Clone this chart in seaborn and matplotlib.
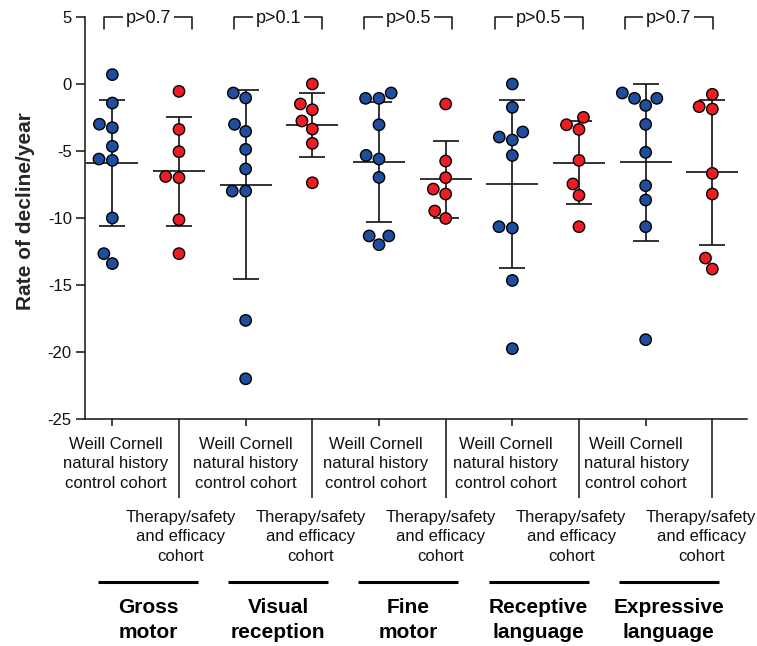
import numpy as np
import pandas as pd
import matplotlib
matplotlib.use("Agg")
import matplotlib.pyplot as plt
import matplotlib.transforms as mtransforms
import seaborn as sns

# ---- data: rate of decline per year for each developmental domain ----
domain_titles = ["Gross\nmotor", "Visual\nreception", "Fine\nmotor",
                 "Receptive\nlanguage", "Expressive\nlanguage"]
p_labels = ["p>0.7", "p>0.1", "p>0.5", "p>0.5", "p>0.7"]
control_label = "Weill Cornell\nnatural history\ncontrol cohort"
therapy_label = "Therapy/safety\nand efficacy\ncohort"
cohorts = ["control", "therapy"]

control_gross = [0.7, -1.42, -3.0, -3.26, -4.65, -5.6, -5.7, -10.0, -12.66, -13.4]
therapy_gross = [-0.55, -3.39, -5.05, -6.9, -6.99, -10.13, -12.66]

control_visual = [-0.67, -1.04, -3.01, -3.54, -4.88, -6.34, -7.99, -7.99, -17.64, -22.0]
therapy_visual = [0.0, -1.49, -1.92, -2.76, -3.36, -4.43, -7.37]

control_fine = [-0.67, -1.07, -1.07, -3.04, -5.33, -5.6, -6.97, -11.34, -11.34, -11.99]
therapy_fine = [-1.49, -5.75, -6.99, -7.84, -8.21, -9.48, -10.03]

control_receptive = [0.0, -1.74, -3.58, -3.96, -4.18, -5.33, -10.65, -10.75, -14.66, -19.75]
therapy_receptive = [-2.49, -3.04, -3.39, -5.7, -7.46, -8.31, -10.65]

control_expressive = [-0.67, -1.07, -1.07, -1.6, -3.01, -5.1, -7.59, -8.66, -10.65, -19.08]
therapy_expressive = [-0.77, -1.69, -1.87, -6.67, -8.21, -12.99, -13.81]

series = [
    (control_gross, therapy_gross),
    (control_visual, therapy_visual),
    (control_fine, therapy_fine),
    (control_receptive, therapy_receptive),
    (control_expressive, therapy_expressive),
]

# ---- long-form table, one slot per domain x cohort ----
rows = []
slot_order = []
for d, (ctrl, ther) in enumerate(series):
    for cohort, vals in zip(cohorts, (ctrl, ther)):
        slot = f"{d}-{cohort}"
        slot_order.append(slot)
        for v in vals:
            rows.append({"slot": slot, "cohort": cohort, "rate": v})
df = pd.DataFrame(rows)

# ---- style ----
sns.set_style("ticks")
plt.rcParams["font.family"] = ["Liberation Sans", "DejaVu Sans"]
plt.rcParams["axes.unicode_minus"] = False

blue = "#1F4E9E"
red = "#EE1D23"
ink = "#111111"

fig = plt.figure(figsize=(7.57, 6.46), dpi=100)
ax = fig.add_axes([85 / 757, 1 - 419 / 646, 662 / 757, 402 / 646])

sns.swarmplot(data=df, x="slot", y="rate", hue="cohort", order=slot_order,
              hue_order=cohorts, palette=[blue, red], size=8.2,
              edgecolor="black", linewidth=1.0, legend=False, ax=ax, zorder=3)

# mean +/- SD for each slot
stats = df.groupby("slot", sort=False)["rate"].agg(["mean", "std"]).reindex(slot_order)
pos = np.arange(len(slot_order))
ax.errorbar(pos, stats["mean"], yerr=stats["std"], fmt="none", ecolor=ink,
            elinewidth=1.2, capsize=9.4, capthick=1.2, zorder=2)
ax.hlines(stats["mean"], pos - 0.39, pos + 0.39, colors=ink, linewidth=1.2, zorder=2)

# ---- axes ----
ax.set_xlim(-0.41, 9.52)
ax.set_ylim(-25, 5)
ax.set_yticks(np.arange(-25, 6, 5))
ax.set_xlabel("")
ax.set_ylabel("Rate of decline/year", fontsize=15, fontweight="bold")
ax.yaxis.set_label_coords(-0.0755, 0.517)

# short ticks under the control cohorts, long separator ticks under the therapy cohorts
ax.set_xticks(pos[0::2], [""] * 5)
ax.set_xticks(pos[1::2], [""] * 5, minor=True)
ax.tick_params(axis="y", length=6.5, width=1.1, pad=3, labelsize=12, colors=ink)
ax.tick_params(axis="x", which="major", length=5, width=1.1, colors=ink)
ax.tick_params(axis="x", which="minor", length=57, width=1.1, colors=ink)

sns.despine(ax=ax)
for side in ("left", "bottom"):
    ax.spines[side].set_linewidth(1.1)
    ax.spines[side].set_color(ink)

# ---- category labels, comparison brackets and domain titles ----
trans = mtransforms.blended_transform_factory(ax.transData, ax.transAxes)
label_x = 0.05 + 0.976 * pos
for k, lx in enumerate(label_x):
    is_control = k % 2 == 0
    ax.text(lx, -0.0448 if is_control else -0.2264,
            control_label if is_control else therapy_label,
            transform=trans, ha="center", va="top", fontsize=12,
            linespacing=1.36, color=ink)

group_x = 0.05 + 0.976 * (pos[0::2] + 0.5)
for cx, ptxt, title in zip(group_x, p_labels, domain_titles):
    ax.plot([cx - 0.66, cx - 0.66, cx + 0.66, cx + 0.66], [4.1, 5, 5, 4.1],
            color=ink, linewidth=1.1, clip_on=False, zorder=4)
    ax.text(cx, 4.88, ptxt, ha="center", va="center", fontsize=13, color=ink,
            zorder=5, bbox=dict(boxstyle="square,pad=0.15", fc="white", ec="none"))
    ax.plot([cx - 0.75, cx + 0.75], [-0.4047, -0.4047], transform=trans,
            color="black", linewidth=2.2, clip_on=False, solid_capstyle="butt")
    ax.text(cx, -0.5, title, transform=trans, ha="center", va="center",
            fontsize=15, fontweight="bold", linespacing=1.36, color="black")

fig.savefig("out.png", dpi=100)
